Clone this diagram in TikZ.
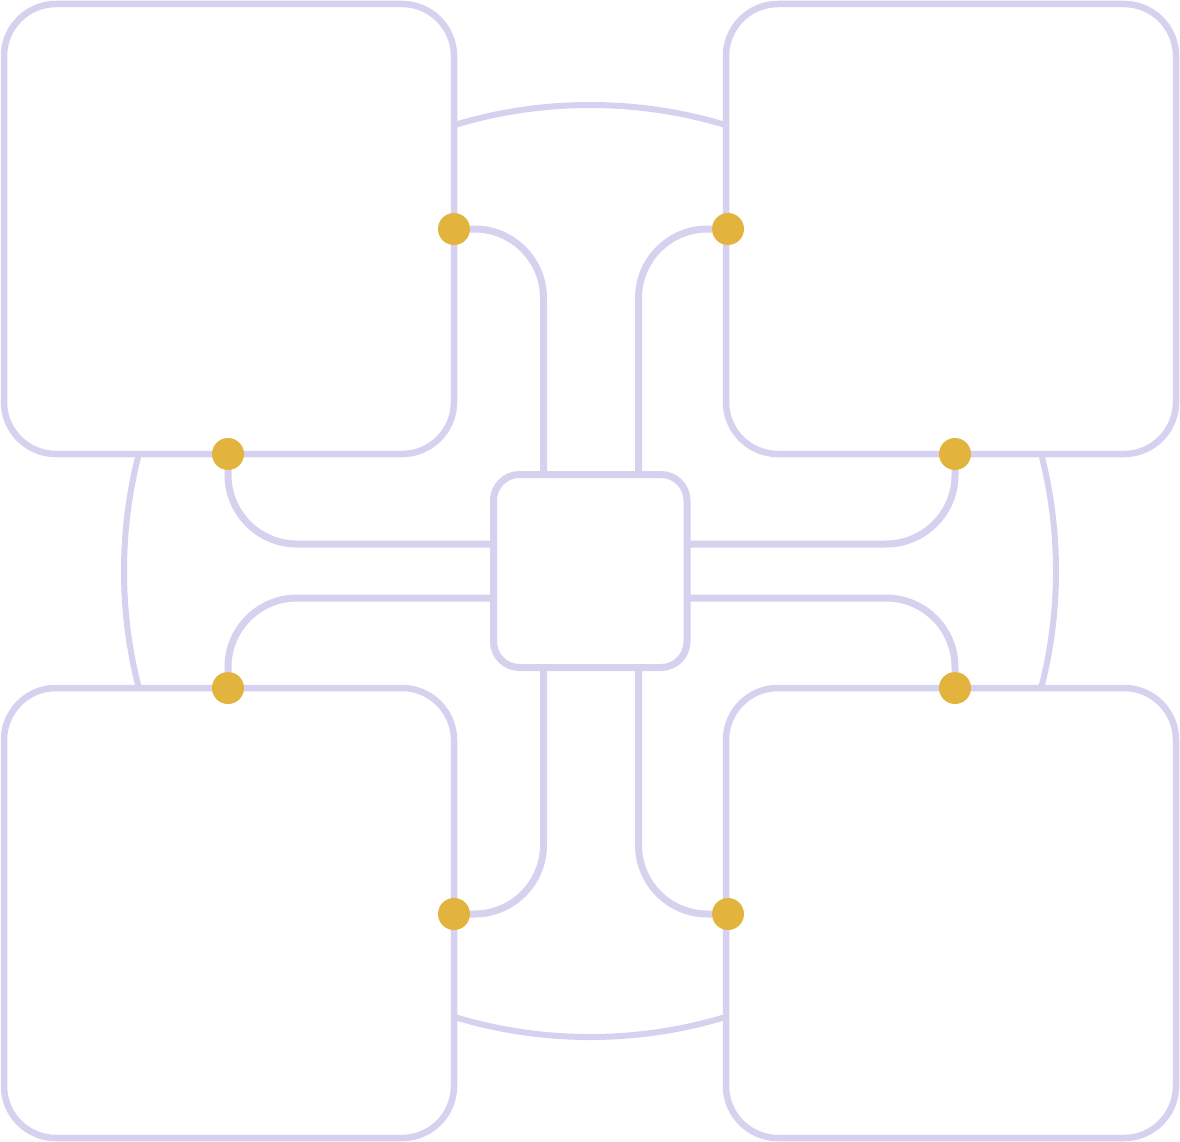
\documentclass[tikz,border=0pt]{standalone}
\usetikzlibrary{calc}
\definecolor{lav}{HTML}{D5D1EE}
\definecolor{gold}{HTML}{E2B43E}
\tikzset{
  bigbox/.style={draw=lav, line width=6.5pt, fill=white, rounded corners=52pt, minimum width=450pt, minimum height=450pt, inner sep=0pt, outer sep=0pt},
  hubbox/.style={draw=lav, line width=7pt, fill=white, rounded corners=26pt, minimum width=193.5pt, minimum height=193pt, inner sep=0pt, outer sep=0pt},
  dot/.style={circle, fill=gold, minimum size=32pt, inner sep=0pt, outer sep=0pt},
  conn/.style={draw=lav, line width=7pt, rounded corners=69pt},
  ring/.style={draw=lav, line width=6pt}
}
\begin{document}
\begin{tikzpicture}[x=1pt,y=-1pt]
\useasboundingbox (0,0) rectangle (1180,1142);
\draw[ring] (590,571) circle (466);
\node[bigbox] (TL) at (229,229) {};
\node[bigbox] (TR) at (951,229) {};
\node[bigbox] (BL) at (229,913) {};
\node[bigbox] (BR) at (951,913) {};
\node[hubbox] (C) at (590.25,571) {};
\node[dot] (d1) at (454,229) {};
\node[dot] (d2) at (728,229) {};
\node[dot] (d3) at (228,454) {};
\node[dot] (d4) at (955,454) {};
\node[dot] (d5) at (228,688) {};
\node[dot] (d6) at (955,688) {};
\node[dot] (d7) at (454,914) {};
\node[dot] (d8) at (728,914) {};
\draw[conn] ([xshift=-46.75pt]C.north) |- (d1);
\draw[conn] ([xshift=48.25pt]C.north) |- (d2);
\draw[conn] ([yshift=27pt]C.west) -| (d3);
\draw[conn] ([yshift=27pt]C.east) -| (d4);
\draw[conn] ([yshift=-27pt]C.west) -| (d5);
\draw[conn] ([yshift=-27pt]C.east) -| (d6);
\draw[conn] ([xshift=-46.75pt]C.south) |- (d7);
\draw[conn] ([xshift=48.25pt]C.south) |- (d8);
\end{tikzpicture}
\end{document}
